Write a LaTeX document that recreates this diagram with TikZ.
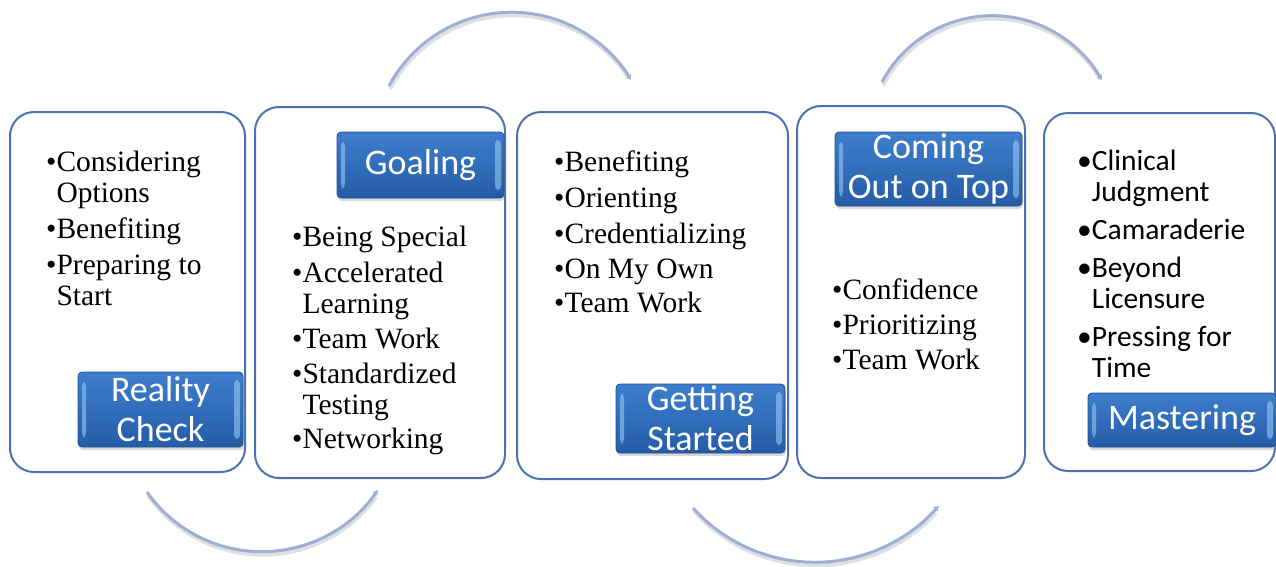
\documentclass[tikz,border=0pt]{standalone}
\usepackage{fontspec}
\setmainfont{Liberation Serif}
\newfontfamily\lblfont{Carlito}
\usetikzlibrary{arrows.meta,shadows}
\definecolor{phaseline}{RGB}{76,114,176}
\definecolor{lbltop}{RGB}{62,126,206}
\definecolor{lblbot}{RGB}{36,92,166}
\definecolor{lbledge}{RGB}{34,80,144}
\definecolor{bevel}{RGB}{150,200,240}
\definecolor{flowcol}{RGB}{158,174,214}

\begin{document}
\begin{tikzpicture}[
  x=1pt, y=-1pt,
  >={Stealth[length=5pt,width=6pt]},
  phase/.style={draw=phaseline,line width=2pt,rounded corners=24pt,fill=white},
  lbl/.style={draw=lbledge,line width=0.8pt,rounded corners=4pt,top color=lbltop,bottom color=lblbot,
    text=white,align=center,inner sep=0pt,font=\lblfont\fontsize{36}{40}\selectfont,
    drop shadow={opacity=0.3,shadow xshift=1pt,shadow yshift=-3pt},
    path picture={
      \fill[bevel,opacity=0.6] ([xshift=4pt,yshift=10pt]path picture bounding box.south west) rectangle ([xshift=8pt,yshift=-10pt]path picture bounding box.north west);
      \fill[bevel,opacity=0.6] ([xshift=-9pt,yshift=8pt]path picture bounding box.south east) rectangle ([xshift=-3pt,yshift=-8pt]path picture bounding box.north east);}},
  items/.style={anchor=north west,align=left,inner sep=0pt,font=\fontsize{29.5}{31}\selectfont},
  flow/.style={->,line width=3pt,draw=flowcol},
  shade/.style={line width=4pt,draw=black!12}
  ]

  \useasboundingbox (0,0) rectangle (1276,566);

  \draw[phase] (10,112) rectangle (245,472);
  \draw[phase] (255,107) rectangle (505,478);
  \draw[phase] (517,112) rectangle (788,479);
  \draw[phase] (797,106) rectangle (1025,478);
  \draw[phase] (1044,113) rectangle (1275,471);

  \node[items] (l1) at (46,151) {\textbullet Considering\\\hphantom{\textbullet}Options\\[5pt]\textbullet Benefiting\\[5pt]\textbullet Preparing to\\\hphantom{\textbullet}Start};
  \node[items] (l2) at (292,226) {\textbullet Being Special\\[5pt]\textbullet Accelerated\\\hphantom{\textbullet}Learning\\[4pt]\textbullet Team Work\\[4pt]\textbullet Standardized\\\hphantom{\textbullet}Testing\\[3pt]\textbullet Networking};
  \node[items] (l3) at (554,151) {\textbullet Benefiting\\[5pt]\textbullet Orienting\\[5pt]\textbullet Credentializing\\[4pt]\textbullet On My Own\\[3pt]\textbullet Team Work};
  \node[items] (l4) at (832,279) {\textbullet Confidence\\[4pt]\textbullet Prioritizing\\[4pt]\textbullet Team Work};
  \node[items,font=\lblfont\fontsize{29.5}{31}\selectfont] (l5) at (1077,150) {\textbullet Clinical\\\hphantom{\textbullet}Judgment\\[7pt]\textbullet Camaraderie\\[7pt]\textbullet Beyond\\\hphantom{\textbullet}Licensure\\[7pt]\textbullet Pressing for\\\hphantom{\textbullet}Time};

  \node[lbl,minimum width=165pt,minimum height=75pt] (reality) at (160.5,409.5) {Reality\\Check};
  \node[lbl,minimum width=167pt,minimum height=66pt] (goaling) at (420.5,165) {Goaling};
  \node[lbl,minimum width=169pt,minimum height=69pt] (started) at (700.5,418.5) {Getting\\Started};
  \node[lbl,minimum width=187pt,minimum height=74pt] (ontop) at (928.5,169) {Coming\\Out on Top};
  \node[lbl,minimum width=188pt,minimum height=54pt] (master) at (1182,420) {Mastering};

  \coordinate (a1) at (147,492);
  \coordinate (a2) at (389,86);
  \coordinate (a3) at (693,508);
  \coordinate (a4) at (882,82);
  \draw[shade] ([shift={(1,3)}]a1) arc[start angle=145,end angle=36,radius=140];
  \draw[shade] ([shift={(1,3)}]a2) arc[start angle=-152,end angle=-33,radius=139];
  \draw[shade] ([shift={(1,3)}]a3) arc[start angle=138,end angle=43,radius=164];
  \draw[shade] ([shift={(1,3)}]a4) arc[start angle=-152,end angle=-31,radius=125];
  \draw[flow] (a1) arc[start angle=145,end angle=34,radius=140];
  \draw[flow] (a2) arc[start angle=-152,end angle=-31,radius=139];
  \draw[flow] (a3) arc[start angle=138,end angle=41,radius=164];
  \draw[flow] (a4) arc[start angle=-152,end angle=-29,radius=125];

\end{tikzpicture}
\end{document}
